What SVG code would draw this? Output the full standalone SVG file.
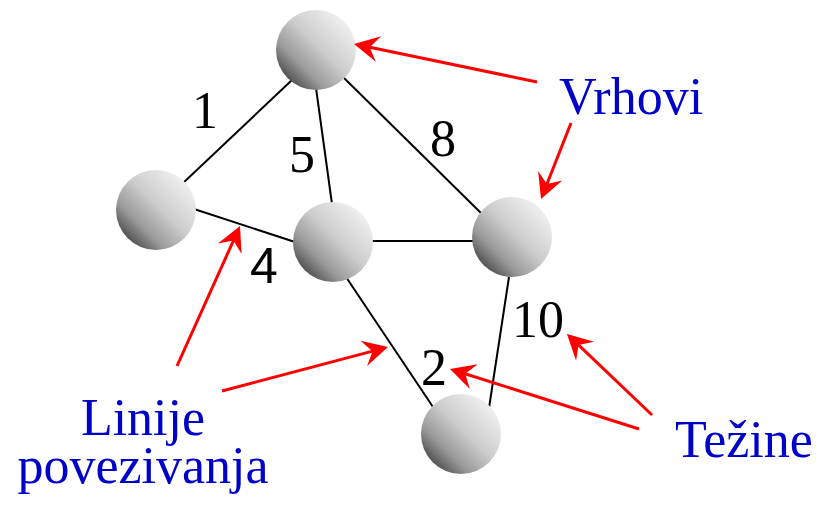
<svg xmlns="http://www.w3.org/2000/svg" width="822" height="507" viewBox="0 0 822 507">
<defs>
<linearGradient id="sph" x1="0.88" y1="0.12" x2="0.12" y2="0.88">
<stop offset="0" stop-color="#f2f2f2"/>
<stop offset="0.45" stop-color="#cccccc"/>
<stop offset="0.75" stop-color="#9a9a9a"/>
<stop offset="1" stop-color="#484848"/>
</linearGradient>
<marker id="ah" markerUnits="userSpaceOnUse" viewBox="-27 -15 30 30" markerWidth="30" markerHeight="30" refX="-10" refY="0" orient="auto">
<path d="M0,0 L-25,-13 L-16,0 L-25,13 Z" fill="#ff0000"/>
</marker>
</defs>
<style>
.edge{stroke:#000;stroke-width:2;fill:none}
.arr{stroke:#ff0000;stroke-width:3;fill:none;marker-end:url(#ah)}
.node{fill:url(#sph)}
.serif{font-family:"Liberation Serif","Times New Roman",Times,"DejaVu Serif",serif}
.w{font-size:52px;fill:#000;text-anchor:middle}
.ws{font-family:"Liberation Sans",Arial,sans-serif;font-size:50px;fill:#000;text-anchor:middle}
.lbl{font-size:52px;fill:#0000c8;text-anchor:middle}
</style>
<g id="connectors">
<line class="edge" x1="182" y1="184" x2="292" y2="80"/>
<line class="edge" x1="316" y1="88" x2="332" y2="204"/>
<line class="edge" x1="343" y1="77" x2="482" y2="214"/>
<line class="edge" x1="194" y1="209" x2="295" y2="242"/>
<line class="edge" x1="371" y1="241" x2="474" y2="241"/>
<line class="edge" x1="346" y1="277" x2="433" y2="407"/>
<line class="edge" x1="509" y1="277" x2="489" y2="408"/>
</g>
<g id="n-top"><circle class="node" cx="316" cy="50" r="40"/></g>
<g id="n-left"><circle class="node" cx="156" cy="210" r="40"/></g>
<g id="n-center"><circle class="node" cx="333" cy="242" r="40"/></g>
<g id="n-right"><circle class="node" cx="512" cy="237" r="40"/></g>
<g id="n-bottom"><circle class="node" cx="461" cy="434" r="40"/></g>
<g id="weights">
<text class="w serif" x="205" y="128">1</text>
<text class="w serif" x="302" y="172">5</text>
<text class="w serif" x="443" y="156">8</text>
<text class="ws" x="264" y="283">4</text>
<text class="w serif" x="538" y="337">10</text>
<text class="w serif" x="434" y="385">2</text>
</g>
<g id="labels">
<text class="lbl serif" x="631" y="114">Vrhovi</text>
<text class="lbl serif" x="143" y="435">Linije</text>
<text class="lbl serif" x="143" y="483">povezivanja</text>
<text class="lbl serif" x="744" y="457">Težine</text>
</g>
<g id="arrows">
<line class="arr" x1="537" y1="82" x2="363.8" y2="46"/>
<line class="arr" x1="571" y1="123" x2="544.7" y2="189.7"/>
<line class="arr" x1="177" y1="366" x2="235.9" y2="235.1"/>
<line class="arr" x1="222" y1="391" x2="378.3" y2="349.6"/>
<line class="arr" x1="639" y1="429" x2="459.5" y2="372"/>
<line class="arr" x1="652" y1="415" x2="574.2" y2="340.9"/>
</g>
</svg>
